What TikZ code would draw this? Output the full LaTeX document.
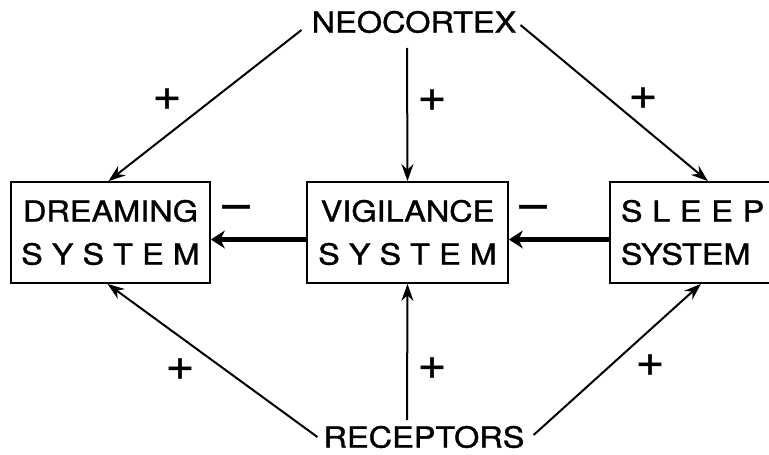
\documentclass[tikz,border=0pt]{standalone}
\usepackage{fontspec}
\setmainfont{TeX Gyre Heros}[FakeStretch=1.12,FakeBold=1.2]
\usepackage{tikz}
\usetikzlibrary{arrows.meta}
\tikzset{
  sys box/.style={
    draw,
    line width=1.8pt,
    minimum width={#1},
    minimum height={101pt},
    align=center,
    font=\fontsize{29}{43}\selectfont,
  },
  source/.style={
    inner sep=2pt,
    font=\fontsize{29}{30}\selectfont,
  },
  sign/.style={
    inner sep=0pt,
    font=\fontsize{44}{46}\selectfont,
  },
  excite/.style={
    line width=2pt,
    -{Stealth[length=17pt,width=12pt]},
  },
  inhibit/.style={
    line width=4.5pt,
    -{Stealth[length=14pt,width=18pt]},
  }
}

\begin{document}
\begin{tikzpicture}[x=1pt,y=-1pt]
    \clip (0,0) rectangle (769,455);

    \node [sys box=199pt] (dream) at (110.5,232.5) {DREAMING\\S Y S T E M};
    \node [sys box=201pt] (vigil) at (407.5,232.5) {VIGILANCE\\S Y S T E M};
    \node [sys box=200pt, text width=178pt, inner sep=11pt, align=left,
      anchor=west] (sleep) at (609,232.5) {S L E E P\\SYSTEM};

    \node [source] (neo) at (414,22) {NEOCORTEX};
    \node [source] (rec) at (424,437) {RECEPTORS};

    \coordinate (neo-l) at ([xshift=-8pt,yshift=-8pt]neo.west);
    \coordinate (neo-r) at ([xshift=2pt,yshift=-3pt]neo.east);
    \coordinate (neo-m) at (407,48);
    \coordinate (rec-l) at ([xshift=-4pt]rec.west);
    \coordinate (rec-r) at ([xshift=7pt,yshift=2pt]rec.east);
    \coordinate (rec-m) at (407,420);

    % neocortex inputs
    \draw [excite] (neo-l) -- ([xshift=-2pt]dream.north);
    \draw [excite] (neo-m) -- (vigil.north);
    \draw [excite] (neo-r) -- ([xshift=-2pt]sleep.north);

    % receptor inputs
    \draw [excite] (rec-l) -- ([xshift=-3pt]dream.south);
    \draw [excite] (rec-m) -- (vigil.south);
    \draw [excite] (rec-r) -- ([xshift=-9pt]sleep.south);

    % inhibition
    \draw [inhibit] ([yshift=-7pt]vigil.west) -- ([yshift=-7pt]dream.east);
    \draw [inhibit] ([yshift=-7pt]sleep.west) -- ([yshift=-7pt]vigil.east);

    \node [sign] (p1) at (167,99) {+};
    \node [sign] (p2) at (432,100) {+};
    \node [sign] (p3) at (643,98) {+};
    \node [sign] (p4) at (180,369) {+};
    \node [sign] (p5) at (432,368) {+};
    \node [sign] (p6) at (650,365) {+};
    \node [sign] (m1) at (236,212) {--};
    \node [sign] (m2) at (533,212) {--};
\end{tikzpicture}
\end{document}
